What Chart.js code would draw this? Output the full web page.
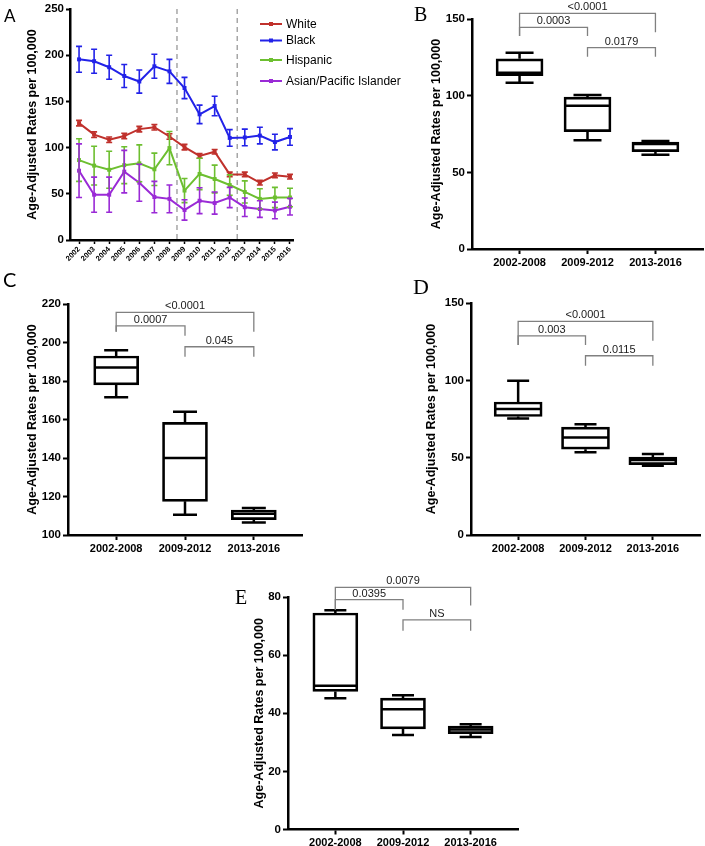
<!DOCTYPE html>
<html>
<head>
<meta charset="utf-8">
<script src="https://cdn.jsdelivr.net/npm/chart.js@4.4.1/dist/chart.umd.min.js"></script>
<style>
  body { margin: 0; background: #fff; }
  #page { position: relative; width: 705px; height: 846px; overflow: hidden; background: #fff; }
  canvas { position: absolute; }
  .tag { position: absolute; line-height: 1; color: #000; }
  .sans { font-family: 'Lato', 'Open Sans', sans-serif; }
  .serif { font-family: 'Liberation Serif', serif; }
</style>
</head>
<body>
<div id="page">
  <canvas id="chartB" width="335" height="280" style="left:370px;top:0"></canvas>
  <canvas id="chartA" width="410" height="280" style="left:0;top:0"></canvas>
  <canvas id="chartC" width="360" height="285" style="left:0;top:280px"></canvas>
  <canvas id="chartD" width="335" height="285" style="left:370px;top:280px"></canvas>
  <canvas id="chartE" width="360" height="271" style="left:180px;top:575px"></canvas>
  <div class="tag sans" style="left:4px;top:7px;font-size:17px">A</div>
  <div class="tag serif" style="left:414px;top:4px;font-size:20px">B</div>
  <div class="tag sans" style="left:3px;top:269px;font-size:20px">C</div>
  <div class="tag serif" style="left:413px;top:276px;font-size:22px">D</div>
  <div class="tag serif" style="left:235px;top:587px;font-size:20px">E</div>
</div>
<script>
// Panel A: yearly rates by race
const years = [2002, 2003, 2004, 2005, 2006, 2007, 2008, 2009, 2010, 2011, 2012, 2013, 2014, 2015, 2016];
const white = [126.5, 114, 108.5, 112.5, 120, 122, 112, 100.5, 91, 95.5, 71, 71, 62, 70, 68.5];
const whiteErr = [3, 3, 3, 3, 3, 3, 3, 3, 2.5, 2.5, 2.5, 2.5, 2.5, 2.5, 2.5];
const black = [195.5, 193.5, 187, 177.5, 171.5, 188, 182.5, 164.5, 136, 145, 110.5, 111, 113, 106, 111.5];
const blackErr = [14, 13, 13, 12.5, 12.5, 13, 13, 11.5, 10, 10.5, 9, 9, 9, 8.5, 9];
const hispanic = [86.5, 80.5, 76, 81, 83, 76.5, 99.5, 53.5, 71.5, 66, 59.5, 52, 44.5, 46, 46];
const hispanicErr = [23, 21, 20, 20, 20, 17.5, 18, 13, 17, 15, 11, 12, 11, 11, 10];
const asian = [75, 49, 49, 74, 62, 46.5, 44.5, 32.5, 42.5, 40, 46, 35.5, 33.5, 32, 36];
const asianErr = [29, 19, 19, 23, 20, 17, 15, 11, 14, 12, 11, 10, 9, 9, 9];
const periodBreaks = [2008.5, 2012.5];

// Panels B-E: period summaries [min, q1, median, q3, max]
const periodLabels = ['2002-2008', '2009-2012', '2013-2016'];
const whiteBox = [[108.5, 113, 115, 124, 128], [71, 76.5, 93.5, 99, 100.5], [61.5, 63.5, 68.5, 69.8, 70.5]];
const blackBox = [[171.5, 178, 187, 193, 196], [110.5, 117.5, 140, 158.5, 164], [106.5, 108, 111, 113, 114]];
const hispanicBox = [[75.3, 76.6, 81.4, 86, 99.7], [53.5, 55.5, 63, 69.7, 71.6], [44.7, 45.5, 48.5, 50.3, 52.4]];
const asianBox = [[45.2, 47.5, 49.5, 74.5, 75.4], [32.5, 34.6, 41.4, 45.2, 46.2], [31.8, 33, 34.4, 35.6, 36.2]];
const comparisons = [[0, 2], [0, 1], [1, 2]];
const whiteP = ['<0.0001', '0.0003', '0.0179'];
const blackP = ['<0.0001', '0.0007', '0.045'];
const hispanicP = ['<0.0001', '0.003', '0.0115'];
const asianP = ['0.0079', '0.0395', 'NS'];

Chart.defaults.font.family = "'Liberation Sans', Arial, sans-serif";
Chart.defaults.color = '#000';

const tickFont = { size: 11.5, weight: 'bold' };
const titleFont = { size: 12.5, weight: 'bold' };
const titleText = 'Age-Adjusted Rates per 100,000';

// error bars for the line chart
const errorBars = {
    id: 'errorBars',
    afterDatasetsDraw(chart) {
        const ctx = chart.ctx;
        const yScale = chart.scales.y;
        chart.data.datasets.forEach((ds, i) => {
            const pts = chart.getDatasetMeta(i).data;
            ctx.save();
            ctx.strokeStyle = ds.borderColor;
            ctx.lineWidth = 1.6;
            ds.data.forEach((d, j) => {
                const px = pts[j].x;
                const top = yScale.getPixelForValue(d.y + ds.errors[j]);
                const bot = yScale.getPixelForValue(d.y - ds.errors[j]);
                ctx.beginPath();
                ctx.moveTo(px, top); ctx.lineTo(px, bot);
                ctx.moveTo(px - 3, top); ctx.lineTo(px + 3, top);
                ctx.moveTo(px - 3, bot); ctx.lineTo(px + 3, bot);
                ctx.stroke();
            });
            ctx.restore();
        });
    }
};

// grey dashed period separators
const periodLines = {
    id: 'periodLines',
    beforeDatasetsDraw(chart) {
        const { ctx, chartArea, scales: { x } } = chart;
        ctx.save();
        ctx.strokeStyle = '#a6a6a6';
        ctx.lineWidth = 1.5;
        ctx.setLineDash([5, 4]);
        periodBreaks.forEach(v => {
            const px = x.getPixelForValue(v);
            ctx.beginPath();
            ctx.moveTo(px, chartArea.top);
            ctx.lineTo(px, chartArea.bottom);
            ctx.stroke();
        });
        ctx.restore();
    }
};

// legend inside the plot, top right
const insideLegend = {
    id: 'insideLegend',
    afterDraw(chart, args, opts) {
        const ctx = chart.ctx;
        ctx.save();
        ctx.font = "12px 'Liberation Sans', Arial, sans-serif";
        ctx.textBaseline = 'middle';
        chart.data.datasets.forEach((ds, i) => {
            const y = opts.rows[i];
            ctx.strokeStyle = ds.borderColor;
            ctx.fillStyle = ds.borderColor;
            ctx.lineWidth = 2;
            ctx.beginPath();
            ctx.moveTo(opts.x, y);
            ctx.lineTo(opts.x + 22, y);
            ctx.stroke();
            ctx.fillRect(opts.x + 9, y - 2, 4, 4);
            ctx.fillStyle = '#000';
            ctx.fillText(ds.label, opts.x + 26, y + 0.5);
        });
        ctx.restore();
    }
};

function series(label, values, errors, color, order) {
    return {
        label: label,
        data: values.map((v, i) => ({ x: years[i], y: v })),
        errors: errors,
        borderColor: color,
        backgroundColor: color,
        borderWidth: 2,
        pointStyle: 'rect',
        pointRadius: 2.8,
        pointBorderWidth: 0,
        order: order
    };
}

new Chart(document.getElementById('chartA'), {
    type: 'line',
    data: {
        datasets: [
            series('White', white, whiteErr, '#c0312c', 3),
            series('Black', black, blackErr, '#2222e8', 2),
            series('Hispanic', hispanic, hispanicErr, '#6dbf30', 1),
            series('Asian/Pacific Islander', asian, asianErr, '#9a2ad6', 0)
        ]
    },
    options: {
        responsive: false,
        animation: false,
        layout: { padding: { top: 9, right: 117, left: 0, bottom: 0 } },
        plugins: {
            legend: { display: false },
            tooltip: { enabled: false },
            insideLegend: { x: 260, rows: [24, 40.5, 60, 81] }
        },
        scales: {
            x: {
                type: 'linear',
                min: 2001.4,
                max: 2016.2,
                afterBuildTicks: s => { s.ticks = years.map(v => ({ value: v })); },
                afterFit: s => { s.height = 40; },
                ticks: {
                    callback: v => String(v),
                    font: { size: 7.5, weight: 'bold' },
                    minRotation: 45,
                    maxRotation: 45,
                    autoSkip: false,
                    padding: 1
                },
                grid: { drawOnChartArea: false, tickLength: 4, tickWidth: 1.5, tickColor: '#000' },
                border: { color: '#000', width: 2.5 }
            },
            y: {
                min: 0,
                max: 250,
                afterFit: s => { s.width = 70; },
                ticks: { stepSize: 50, font: tickFont, padding: 2 },
                grid: { drawOnChartArea: false, tickLength: 4, tickWidth: 2, tickColor: '#000' },
                border: { color: '#000', width: 2.5 },
                title: { display: true, text: titleText, font: titleFont, padding: { top: 25.5 } }
            }
        }
    },
    plugins: [periodLines, errorBars, insideLegend]
});

// whiskers and median lines on top of the floating-bar boxes
const boxWhiskers = {
    id: 'boxWhiskers',
    afterDatasetsDraw(chart, args, opts) {
        const ctx = chart.ctx;
        const yScale = chart.scales.y;
        const bars = chart.getDatasetMeta(0).data;
        ctx.save();
        ctx.strokeStyle = '#000';
        ctx.lineWidth = 2.5;
        opts.stats.forEach((s, i) => {
            const cx = bars[i].x;
            const half = bars[i].width / 2;
            const cap = opts.capWidth / 2;
            const [lo, q1, med, q3, hi] = s.map(v => yScale.getPixelForValue(v));
            ctx.beginPath();
            ctx.moveTo(cx, q3); ctx.lineTo(cx, hi);
            ctx.moveTo(cx - cap, hi); ctx.lineTo(cx + cap, hi);
            ctx.moveTo(cx, q1); ctx.lineTo(cx, lo);
            ctx.moveTo(cx - cap, lo); ctx.lineTo(cx + cap, lo);
            ctx.moveTo(cx - half + 1, med); ctx.lineTo(cx + half - 1, med);
            ctx.stroke();
        });
        ctx.restore();
    }
};

// significance brackets above the boxes
const brackets = {
    id: 'brackets',
    afterDraw(chart, args, opts) {
        const { ctx, scales: { x, y } } = chart;
        ctx.save();
        ctx.strokeStyle = '#808080';
        ctx.lineWidth = 1.3;
        ctx.fillStyle = '#1a1a1a';
        ctx.font = "11px 'Liberation Sans', Arial, sans-serif";
        ctx.textAlign = 'center';
        ctx.textBaseline = 'bottom';
        comparisons.forEach(([a, b], k) => {
            const [top, footA, footB] = opts.levels[k];
            const xa = x.getPixelForValue(a);
            const xb = x.getPixelForValue(b);
            const yt = y.getPixelForValue(top);
            ctx.beginPath();
            ctx.moveTo(xa, y.getPixelForValue(footA));
            ctx.lineTo(xa, yt);
            ctx.lineTo(xb, yt);
            ctx.lineTo(xb, y.getPixelForValue(footB));
            ctx.stroke();
            ctx.fillText(opts.pvals[k], (xa + xb) / 2, yt - 0.5);
        });
        ctx.restore();
    }
};

function boxChart(id, stats, pvals, o) {
    return new Chart(document.getElementById(id), {
        type: 'bar',
        data: {
            datasets: [{
                data: stats.map((s, i) => ({ x: i, y: [s[1], s[3]] })),
                backgroundColor: '#fff',
                borderColor: '#000',
                borderWidth: 2.7,
                borderSkipped: false,
                barThickness: o.boxWidth
            }]
        },
        options: {
            responsive: false,
            animation: false,
            layout: { padding: o.padding },
            plugins: {
                legend: { display: false },
                tooltip: { enabled: false },
                boxWhiskers: { stats: stats, capWidth: o.capWidth },
                brackets: { pvals: pvals, levels: o.levels }
            },
            scales: {
                x: {
                    type: 'linear',
                    min: -0.7,
                    max: 2.7,
                    offset: false,
                    afterBuildTicks: s => { s.ticks = periodLabels.map((_, i) => ({ value: i })); },
                    afterFit: s => { s.height = o.xHeight; },
                    ticks: { callback: v => periodLabels[v], font: { size: 11, weight: 'bold' }, maxRotation: 0, autoSkip: false, padding: 2 },
                    grid: { offset: false, drawOnChartArea: false, tickLength: 5, tickWidth: 2, tickColor: '#000' },
                    border: { color: '#000', width: 2.5 }
                },
                y: {
                    min: o.min,
                    max: o.max,
                    afterFit: s => { s.width = o.yWidth; },
                    ticks: { stepSize: o.step, font: tickFont, padding: 2 },
                    grid: { drawOnChartArea: false, tickLength: 5, tickWidth: 2, tickColor: '#000' },
                    border: { color: '#000', width: 2.5 },
                    title: { display: true, text: titleText, font: titleFont, padding: { top: o.titlePad } }
                }
            }
        },
        plugins: [boxWhiskers, brackets]
    });
}

boxChart('chartB', whiteBox, whiteP, {
    min: 0, max: 150, step: 50, yWidth: 102, xHeight: 31, titlePad: 59.5,
    padding: { top: 19, right: 2, left: 0, bottom: 0 }, boxWidth: 47, capWidth: 28,
    levels: [[153.7, 138.9, 141.3], [144.6, 138.9, 138.9], [131.3, 125.4, 125.4]]
});
boxChart('chartC', blackBox, blackP, {
    min: 100, max: 220, step: 20, yWidth: 68, xHeight: 30, titlePad: 25.5,
    padding: { top: 24, right: 58, left: 0, bottom: 0 }, boxWidth: 45, capWidth: 24,
    levels: [[215.7, 205.6, 205.6], [208.6, 205.6, 203.5], [197.8, 192.6, 192.6]]
});
boxChart('chartD', hispanicBox, hispanicP, {
    min: 0, max: 150, step: 50, yWidth: 101, xHeight: 30, titlePad: 54.5,
    padding: { top: 23, right: 5, left: 0, bottom: 0 }, boxWidth: 48, capWidth: 22,
    levels: [[138.1, 122.8, 125.6], [128.8, 122.8, 122.8], [115.9, 109.4, 109.4]]
});
boxChart('chartE', asianBox, asianP, {
    min: 0, max: 80, step: 20, yWidth: 108, xHeight: 16.5, titlePad: 72.5,
    padding: { top: 22, right: 22, left: 0, bottom: 0 }, boxWidth: 45, capWidth: 22,
    levels: [[83.3, 75.6, 77.1], [79.1, 75.6, 75.6], [72.1, 68.4, 68.4]]
});
</script>
</body>
</html>
